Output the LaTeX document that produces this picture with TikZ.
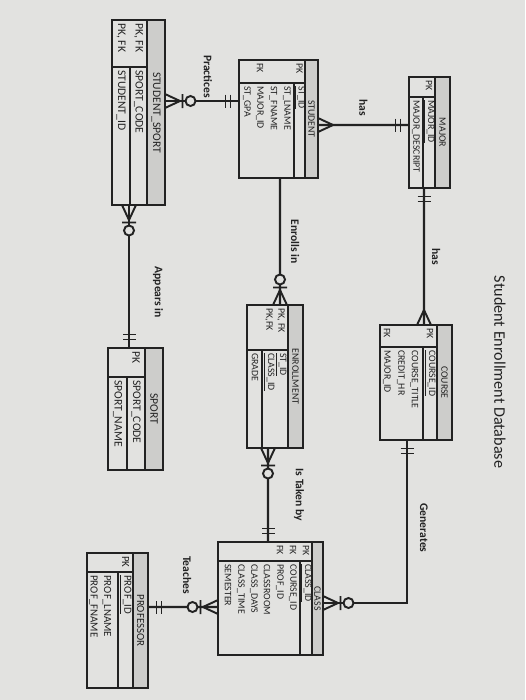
\documentclass[tikz,border=0pt]{standalone}
\usepackage{fontspec}
\setmainfont{Carlito}
\usetikzlibrary{calc}

\definecolor{paper}{RGB}{226,226,224}
\definecolor{ink}{RGB}{34,34,34}
\definecolor{headfill}{RGB}{205,205,203}

\def\tabfont{\fontsize{5.6}{6.5}\selectfont}

\tikzset{
  entitybox/.style={draw=ink, line width=0.6pt, inner sep=0pt, outer sep=0pt},
  headtext/.style={font=\tabfont, text=ink, inner sep=0pt},
  rowtext/.style={font=\tabfont, text=ink, anchor=west, inner sep=0pt},
  link/.style={draw=ink, line width=1.2pt},
  reltext/.style={font=\fontsize{6.6}{7}\selectfont\bfseries, text=ink, inner sep=0pt},
  tipline/.style={draw=ink, line width=1.1pt},
  % crow's foot ends, drawn pointing away from the entity along +x
  crowmany/.pic={\draw[tipline] (0,-1.4) -- (3,0) (0,0) -- (3,0) (0,1.4) -- (3,0);},
  crowzero/.pic={\draw[tipline] (0,-1.4) -- (3,0) (0,0) -- (3,0) (0,1.4) -- (3,0)
      (3.5,-1.4) -- (3.5,1.4);
    \draw[tipline, fill=paper] (5.1,0) circle (1);},
  barone/.pic={\draw[tipline] (1.7,-1.3) -- (1.7,1.3) (2.7,-1.3) -- (2.7,1.3);}
}

% \entity{name}{u0}{v0}{u1}{v1}{header v}{key u}{title}
\newcommand\entity[8]{%
  \fill[headfill] (#2,#6) rectangle (#4,#5);
  \node[entitybox, minimum width={(#4-#2)*1mm}, minimum height={(#5-#3)*1mm}]
    (#1) at ({(#2+#4)/2},{(#3+#5)/2}) {};
  \draw[ink, line width=0.6pt] (#2,#6) -- (#4,#6) (#7,#3) -- (#7,#6);
  \node[headtext] (#1-title) at ({(#2+#4)/2},{(#6+#5)/2}) {#8};
}

% \attrs{name}{u0}{key u}{v/key/attribute,...}
\newcommand\attrs[4]{%
  \foreach \v/\k/\a [count=\i] in {#4}{
    \node[rowtext] (#1-k\i) at (#2+0.6,\v) {\k};
    \node[rowtext] (#1-a\i) at (#3+0.6,\v) {\a};
  }}

\begin{document}
\begin{tikzpicture}[x=1mm, y=1mm, rotate=-90, transform shape]
  % the page is drawn upright and turned a quarter to the right
  \fill[paper] (0,0) rectangle (140,105);
  \useasboundingbox (0,0) rectangle (140,105);

  \node[font=\fontsize{9.2}{10}\selectfont, text=ink] (title) at (74.4,100) {Student Enrollment Database};

  %%%%% ENTITIES %%%%%
  \entity{major}{15.4}{81.8}{37.6}{90}{87}{19.4}{MAJOR}
  \draw[ink, line width=0.6pt] (19.4,84.6) -- (37.6,84.6);
  \attrs{major}{15.4}{19.4}{85.8/PK/\underline{MAJOR\_ID}, 83.2//MAJOR\_DESCRIPT}

  \entity{course}{65}{76}{88}{90.4}{87.4}{69.4}{COURSE}
  \draw[ink, line width=0.6pt] (69.4,84.6) -- (88,84.6);
  \attrs{course}{65}{69.4}{86/PK/\underline{COURSE\_ID}, 82.9//COURSE\_TITLE, 80.2//CREDIT\_HR, 77.4/FK/MAJOR\_ID}

  \entity{student}{12}{47.8}{35.6}{63.6}{61}{16.6}{STUDENT}
  \draw[ink, line width=0.6pt] (16.6,58.8) -- (35.6,58.8);
  \attrs{student}{12}{16.6}{59.9/PK/\underline{ST\_ID}, 57.4//ST\_LNAME, 54.7//ST\_FNAME, 52/FK/MAJOR\_ID, 49.4//ST\_GPA}

  \entity{enrollment}{61}{49.4}{89.6}{60.6}{57.6}{70}{ENROLLMENT}
  \draw[ink, line width=0.6pt] (70,52.4) -- (89.6,52.4);
  \attrs{enrollment}{61}{70}{56.2/{PK, FK}/\underline{ST\_ID}, 53.8/{PK,FK}/\underline{CLASS\_ID}, 51//GRADE}

  \entity{class}{108.4}{43.6}{131}{64.6}{62.4}{112.2}{CLASS}
  \draw[ink, line width=0.6pt] (112.2,60) -- (131,60);
  \attrs{class}{108.4}{112.2}{61.2/PK/\underline{CLASS\_ID}, 58.6/FK/COURSE\_ID, 56/FK/PROF\_ID, 53.4//CLASSROOM, 50.8//CLASS\_DAYS, 48.2//CLASS\_TIME, 45.6//SEMESTER}

  \def\tabfont{\fontsize{6.2}{7}\selectfont}
  \entity{professor}{110.6}{17.4}{137.6}{29.6}{26.6}{114.4}{PROFESSOR}
  \draw[ink, line width=0.6pt] (114.4,23.6) -- (137.6,23.6);
  \attrs{professor}{110.6}{114.4}{25.1/PK/\underline{PROF\_ID}, 21.4//PROF\_LNAME, 18.7//PROF\_FNAME}

  \def\tabfont{\fontsize{6.6}{7.5}\selectfont}
  \entity{studsport}{4}{22.4}{41}{33}{29.4}{13.4}{STUDENT\_SPORT}
  \draw[ink, line width=0.6pt] (13.4,26) -- (41,26);
  \attrs{studsport}{4}{13.4}{27.7/{PK, FK}/SPORT\_CODE, 24.2/{PK, FK}/STUDENT\_ID}

  \entity{sport}{69.6}{21.6}{94}{32.6}{29}{75.4}{SPORT}
  \draw[ink, line width=0.6pt] (75.4,25.4) -- (94,25.4);
  \attrs{sport}{69.6}{75.4}{27.2/PK/SPORT\_CODE, 23.5//SPORT\_NAME}

  %%%%% RELATIONSHIPS %%%%%
  \draw[link] ($(major.south)+(-1.5,0)$) coordinate (ms1) -- ($(student.north)+(1.2,0)$) coordinate (ms2)
    node[reltext, midway, left=1.6mm] (has1) {has};
  \pic[rotate=-90] at (ms1) {barone};
  \pic[rotate=90] at (ms2) {crowmany};

  \draw[link] ($(major.east)+(0,-1.1)$) coordinate (mc1) -- ($(course.west)+(0,1.6)$) coordinate (mc2)
    node[reltext, midway, above=1.4mm] (has2) {has};
  \pic at (mc1) {barone};
  \pic[rotate=180] at (mc2) {crowmany};

  % turned picture: -| runs along the page first, then down it
  \draw[link] ($(course.east)+(0,-1.8)$) coordinate (cc1) -| ($(class.north)+(0.9,0)$) coordinate (cc2)
    node[reltext, pos=0.27, above=2.4mm] (generates) {Generates};
  \pic at (cc1) {barone};
  \pic[rotate=90] at (cc2) {crowzero};

  \draw[link] ($(enrollment.east)+(0,-1.4)$) coordinate (ec1) -- ($(class.west)+(0,-0.5)$) coordinate (ec2)
    node[reltext, midway, above=5mm] (taken) {Is Taken by};
  \pic at (ec1) {crowzero};
  \pic[rotate=180] at (ec2) {barone};

  \draw[link] ($(student.east)+(0,0.3)$) coordinate (se1) -- ($(enrollment.west)+(0,1)$) coordinate (se2)
    node[reltext, midway, above=2mm] (enrolls) {Enrolls in};
  \pic[rotate=180] at (se2) {crowzero};

  \draw[link] ($(studsport.east)+(0,-1.9)$) coordinate (sp1) -- ($(sport.west)+(0,-1.3)$) coordinate (sp2)
    node[reltext, pos=0.61, above=4.6mm] (appears) {Appears in};
  \pic at (sp1) {crowzero};
  \pic[rotate=180] at (sp2) {barone};

  \draw[link] ($(student.south)+(-3.6,0)$) coordinate (ss1) -- ($(studsport.north)+(-2.3,0)$) coordinate (ss2)
    node[reltext, pos=0.42, left=0.4mm] (practices) {Practices};
  \pic[rotate=-90] at (ss1) {barone};
  \pic[rotate=90] at (ss2) {crowzero};

  \draw[link] ($(class.south)+(1.7,0)$) coordinate (cp1) -- ($(professor.north)+(-2.7,0)$) coordinate (cp2)
    node[reltext, pos=0.44, left=2.4mm] (teaches) {Teaches};
  \pic[rotate=-90] at (cp1) {crowzero};
  \pic[rotate=90] at (cp2) {barone};
\end{tikzpicture}
\end{document}
